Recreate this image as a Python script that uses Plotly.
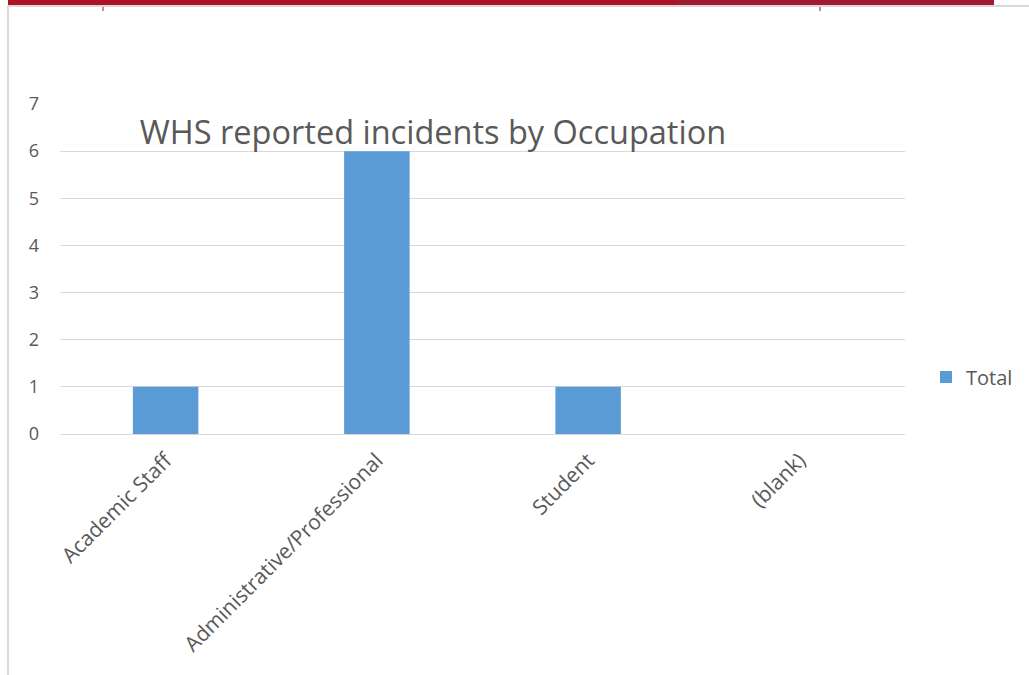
import plotly.graph_objects as go

categories = ["Academic Staff", "Administrative/Professional", "Student", "(blank)"]
totals = [1, 6, 1, None]
y_ticks = [0, 1, 2, 3, 4, 5, 6, 7]

W, H = 1029, 675


def px_x(v):
    return v / W


def px_y(v):
    return 1 - v / H


fig = go.Figure()
fig.add_trace(
    go.Bar(
        x=categories,
        y=totals,
        name="Total",
        marker=dict(color="#5B9BD5", line=dict(width=0)),
        showlegend=True,
    )
)

grey = "#595959"
fig.update_layout(
    width=W,
    height=H,
    margin=dict(l=0, r=0, t=0, b=0),
    paper_bgcolor="white",
    plot_bgcolor="white",
    font=dict(family="Open Sans, Liberation Sans, sans-serif", color=grey, size=16),
    bargap=0.69,
    title=dict(
        text="WHS reported incidents by Occupation",
        x=px_x(433),
        xanchor="center",
        y=px_y(133),
        yanchor="middle",
        font=dict(size=32.5, color=grey),
    ),
    xaxis=dict(
        domain=[px_x(60), px_x(905)],
        automargin=False,
        tickangle=-45,
        showgrid=False,
        showline=False,
        ticks="",
        ticklabelstandoff=9,
        tickfont=dict(size=21, color=grey),
    ),
    yaxis=dict(
        domain=[px_y(434), px_y(104)],
        automargin=False,
        range=[0, 7],
        tickvals=y_ticks,
        showgrid=True,
        gridcolor="#d9d9d9",
        gridwidth=1,
        zeroline=True,
        zerolinecolor="#d9d9d9",
        zerolinewidth=1,
        ticks="",
        ticklabelstandoff=20,
        tickfont=dict(size=18, color=grey),
    ),
    legend=dict(
        x=px_x(926),
        y=px_y(377),
        xanchor="left",
        yanchor="middle",
        itemwidth=30,
        font=dict(size=20, color=grey),
        bgcolor="rgba(0,0,0,0)",
    ),
    shapes=[
        # red header band of the page
        dict(type="rect", xref="paper", yref="paper", x0=px_x(8), x1=px_x(994),
             y0=px_y(5), y1=1, fillcolor="#AD1225", line=dict(width=0)),
        dict(type="rect", xref="paper", yref="paper", x0=px_x(676), x1=px_x(994),
             y0=px_y(5), y1=1, fillcolor="#A01B30", line=dict(width=0)),
        # frame lines
        dict(type="line", xref="paper", yref="paper", x0=px_x(7), x1=1,
             y0=px_y(6), y1=px_y(6), line=dict(color="#d9d9d9", width=2)),
        dict(type="line", xref="paper", yref="paper", x0=px_x(8), x1=px_x(8),
             y0=px_y(6), y1=0, line=dict(color="#d9d9d9", width=2)),
        dict(type="line", xref="paper", yref="paper", x0=px_x(103), x1=px_x(103),
             y0=px_y(7), y1=px_y(11), line=dict(color="#AD1225", width=1)),
        dict(type="line", xref="paper", yref="paper", x0=px_x(820), x1=px_x(820),
             y0=px_y(7), y1=px_y(11), line=dict(color="#AD1225", width=1)),
    ],
)

fig.write_html(
    "out.html",
    config={"displayModeBar": False},
    post_script="document.body.style.margin='0';",
)
